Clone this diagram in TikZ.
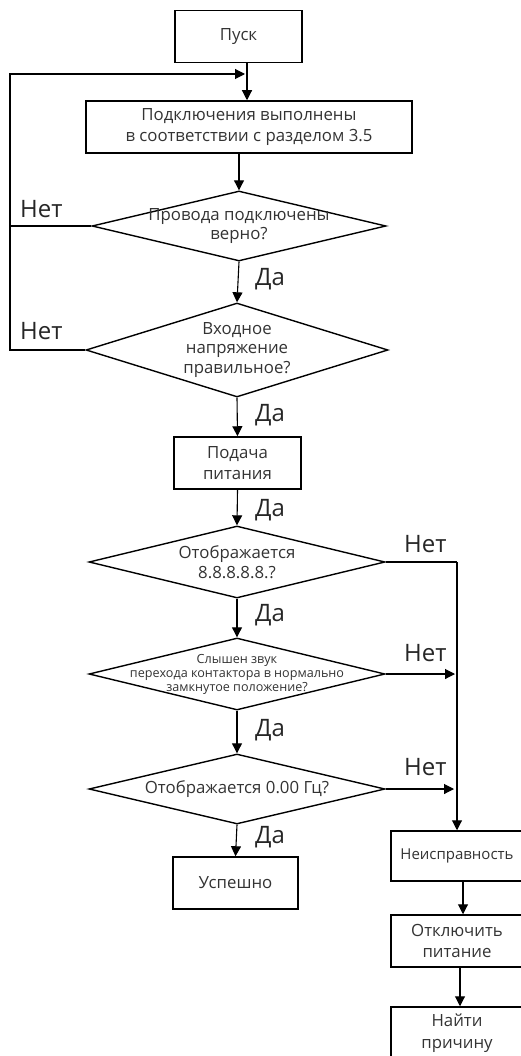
\documentclass[tikz,border=0pt]{standalone}
\usepackage{fontspec}
\setmainfont{Open Sans}
\usetikzlibrary{arrows.meta,shapes.geometric}

\tikzset{
  box/.style={draw, line width=1.5pt, inner sep=0pt, minimum width=127pt,
    minimum height=52pt, align=center, text=black!80,
    font=\fontsize{16.8}{21.5}\selectfont},
  decision/.style={diamond, draw, line width=1.4pt, inner sep=0pt},
  dtext/.style={align=center, text=black!80, inner sep=0pt,
    font=\fontsize{16.8}{19.5}\selectfont},
  flow/.style={line width=1.1pt, -{Triangle[length=10pt,width=10pt]}},
  link/.style={line width=1.1pt},
  answer/.style={anchor=west, inner sep=0pt, text=black!85,
    font=\fontsize{24}{24}\selectfont},
}

\begin{document}
\begin{tikzpicture}[x=1pt, y=-1pt]
  \useasboundingbox (0,0) rectangle (521,1056);

  % main column
  \node[box] (start) at (238.5,36.5) {Пуск};
  \node[box, minimum width=326pt] (wiring) at (249,127)
    {Подключения выполнены\\в соответствии с разделом 3.5};

  \node[decision, minimum width=294pt, minimum height=70pt] (wires) at (239,226) {};
  \node[dtext] at (wires) {Провода подключены\\верно?};

  \node[decision, minimum width=302pt, minimum height=94pt] (voltage) at (237,350) {};
  \node[dtext] at (voltage) {Входное\\напряжение\\правильное?};

  \node[box] (power) at (237.5,463) {Подача\\питания};

  \node[decision, minimum width=296pt, minimum height=72pt] (display) at (237,562) {};
  \node[dtext] at (display) {Отображается\\8.8.8.8.8.?};

  \node[decision, minimum width=296pt, minimum height=72pt] (contactor) at (237,674) {};
  \node[dtext, font=\fontsize{12.6}{14}\selectfont] at (contactor)
    {Слышен звук\\перехода контактора в нормально\\замкнутое положение?};

  \node[decision, minimum width=296pt, minimum height=70pt] (freq) at (237,789) {};
  \node[dtext] at (freq) {Отображается 0.00 Гц?};

  \node[box, minimum width=125pt] (success) at (235.5,883) {Успешно};

  % right column
  \node[box, minimum width=132pt, minimum height=50pt, font=\fontsize{15}{20}\selectfont]
    (fault) at (457,856) {Неисправность};
  \node[box, minimum width=132pt] (poweroff) at (457,941) {Отключить\\питание};
  \node[box, minimum width=132pt] (cause) at (457,1033) {Найти\\причину};

  \coordinate (merge) at (247,74);
  \coordinate (loop) at (10,74);
  \coordinate (bus) at (457,562);

  % connectors
  \draw[flow] (start.south -| merge) -- (merge |- wiring.north);
  \draw[flow] (wiring.south -| wires.north) -- (wires.north);
  \draw[flow] (wires.south) -- (voltage.north);
  \draw[flow] (voltage.south) -- (power.north);
  \draw[flow] (power.south) -- (display.north);
  \draw[flow] (display.south) -- (contactor.north);
  \draw[flow] (contactor.south) -- (freq.north);
  \draw[flow] (freq.south) -- (success.north);

  % back to the start
  \draw[link] (wires.west) -- (wires.west -| loop);
  \draw[flow] (voltage.west) -- (voltage.west -| loop) -- (loop) -- ([xshift=-2pt]merge);

  % faults
  \draw[link] (display.east) -- (bus);
  \draw[flow] (bus) -- (bus |- fault.north);
  \draw[flow] (contactor.east) -- ([xshift=-2pt]contactor.east -| bus);
  \draw[flow] (freq.east) -- ([xshift=-3pt]freq.east -| bus);
  \draw[flow] ([xshift=6pt]fault.south) -- ([xshift=6pt]poweroff.north);
  \draw[flow] ([xshift=3pt]poweroff.south) -- ([xshift=3pt]cause.north);

  % answers
  \node[answer] (no1) at (20,209) {Нет};
  \node[answer] (no2) at (20,331) {Нет};
  \node[answer] (yes1) at (255,279) {Да};
  \node[answer] (yes2) at (255,415) {Да};
  \node[answer] (yes3) at (255,510) {Да};
  \node[answer] (no3) at (404,544) {Нет};
  \node[answer] (yes4) at (255,615) {Да};
  \node[answer] (no4) at (404,653) {Нет};
  \node[answer] (yes5) at (255,730) {Да};
  \node[answer] (no5) at (404,767) {Нет};
  \node[answer] (yes6) at (255,837) {Да};
\end{tikzpicture}
\end{document}
